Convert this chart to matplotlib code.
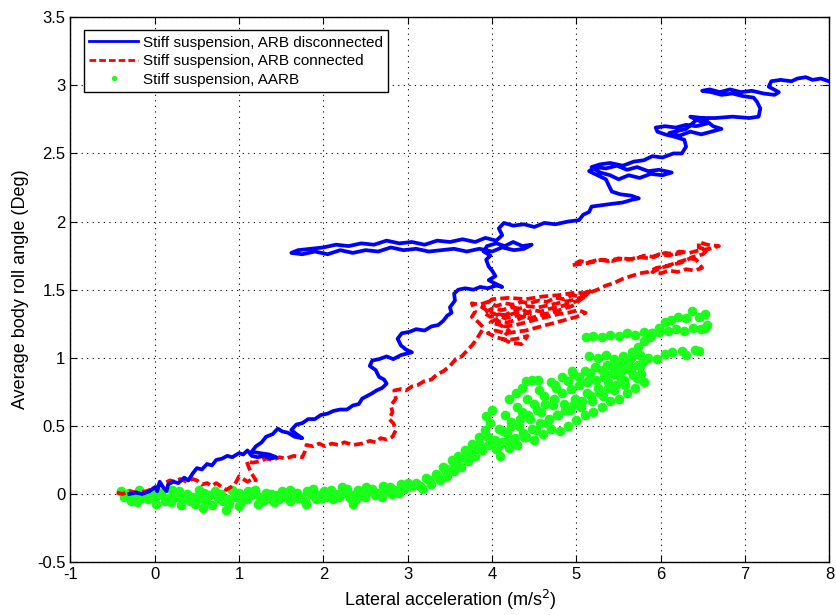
import numpy as np
import matplotlib
matplotlib.use("Agg")
import matplotlib.pyplot as plt

plt.rcParams['font.family'] = ['Liberation Sans Narrow', 'Liberation Sans', 'DejaVu Sans']

# Stiff suspension, ARB disconnected (blue trace), (x, y)
blue_pts = [
    (-0.30, 0.00), (-0.22, 0.01), (-0.15, 0.00), (-0.06, 0.02), (0.00, 0.05), (0.03, 0.02), (0.06, 0.09),
    (0.10, 0.05), (0.14, 0.02), (0.16, 0.07), (0.22, 0.09), (0.28, 0.08), (0.35, 0.12), (0.40, 0.10),
    (0.45, 0.15), (0.50, 0.19), (0.56, 0.18), (0.62, 0.22), (0.68, 0.21), (0.73, 0.25), (0.80, 0.26),
    (0.86, 0.28), (0.92, 0.27), (1.00, 0.30), (1.05, 0.29), (1.10, 0.32), (1.15, 0.28), (1.22, 0.27),
    (1.30, 0.28), (1.38, 0.26), (1.44, 0.27), (1.36, 0.29), (1.25, 0.30), (1.15, 0.31), (1.20, 0.35),
    (1.27, 0.38), (1.32, 0.42), (1.40, 0.44), (1.46, 0.48), (1.51, 0.46), (1.58, 0.45), (1.66, 0.42),
    (1.75, 0.41), (1.68, 0.44), (1.62, 0.47), (1.68, 0.51), (1.75, 0.52), (1.82, 0.55), (1.90, 0.55),
    (1.97, 0.58), (2.05, 0.59), (2.12, 0.61), (2.20, 0.62), (2.28, 0.62), (2.35, 0.65), (2.42, 0.66),
    (2.46, 0.70), (2.52, 0.72), (2.58, 0.74), (2.63, 0.76), (2.70, 0.78), (2.75, 0.81), (2.72, 0.84),
    (2.66, 0.86), (2.62, 0.91), (2.55, 0.94), (2.58, 0.98), (2.66, 0.99), (2.75, 1.01), (2.83, 0.99),
    (2.92, 1.02), (3.05, 1.04), (2.98, 1.06), (2.92, 1.09), (2.88, 1.14), (2.93, 1.18), (3.02, 1.19),
    (3.10, 1.21), (3.20, 1.20), (3.28, 1.23), (3.36, 1.24), (3.42, 1.27), (3.47, 1.31), (3.52, 1.33),
    (3.50, 1.37), (3.56, 1.42), (3.55, 1.47), (3.60, 1.50), (3.68, 1.51), (3.78, 1.50), (3.86, 1.52),
    (3.95, 1.51), (4.05, 1.53), (4.12, 1.52), (4.02, 1.55), (3.96, 1.57), (4.04, 1.60), (4.00, 1.64),
    (3.96, 1.67), (3.93, 1.72), (3.98, 1.75), (3.90, 1.78), (3.94, 1.82), (4.05, 1.84), (4.15, 1.82),
    (4.25, 1.85), (4.36, 1.82), (4.47, 1.83), (4.38, 1.80), (4.26, 1.79), (4.12, 1.81), (4.00, 1.78),
    (3.85, 1.80), (3.70, 1.78), (3.55, 1.80), (3.40, 1.79), (3.25, 1.78), (3.10, 1.80), (2.95, 1.79),
    (2.80, 1.81), (2.65, 1.78), (2.50, 1.79), (2.35, 1.77), (2.20, 1.79), (2.05, 1.76), (1.90, 1.78),
    (1.75, 1.76), (1.62, 1.77), (1.70, 1.79), (1.85, 1.80), (2.00, 1.81), (2.15, 1.83), (2.30, 1.82),
    (2.45, 1.84), (2.60, 1.83), (2.75, 1.86), (2.90, 1.84), (3.05, 1.85), (3.20, 1.83), (3.35, 1.86),
    (3.50, 1.85), (3.65, 1.87), (3.80, 1.85), (3.92, 1.88), (4.05, 1.86), (4.12, 1.90), (4.08, 1.95),
    (4.14, 1.99), (4.25, 1.97), (4.38, 1.98), (4.50, 1.96), (4.62, 1.99), (4.75, 1.98), (4.90, 2.00),
    (5.03, 2.01), (5.08, 2.05), (5.15, 2.07), (5.18, 2.11), (5.30, 2.12), (5.42, 2.13), (5.55, 2.14),
    (5.66, 2.16), (5.74, 2.17), (5.65, 2.19), (5.52, 2.20), (5.42, 2.22), (5.38, 2.27), (5.35, 2.31),
    (5.25, 2.34), (5.15, 2.37), (5.22, 2.40), (5.35, 2.39), (5.48, 2.41), (5.60, 2.38), (5.72, 2.40),
    (5.85, 2.37), (5.98, 2.38), (6.13, 2.36), (6.02, 2.34), (5.88, 2.35), (5.75, 2.32), (5.62, 2.34),
    (5.50, 2.31), (5.40, 2.34), (5.28, 2.36), (5.18, 2.40), (5.28, 2.42), (5.40, 2.43), (5.55, 2.41),
    (5.68, 2.44), (5.80, 2.45), (5.90, 2.48), (6.02, 2.47), (6.15, 2.50), (6.25, 2.50), (6.30, 2.55),
    (6.28, 2.60), (6.18, 2.62), (6.05, 2.64), (5.96, 2.66), (5.94, 2.69), (6.05, 2.70), (6.18, 2.69),
    (6.30, 2.71), (6.42, 2.70), (6.55, 2.72), (6.45, 2.74), (6.35, 2.77), (6.50, 2.76), (6.62, 2.70),
    (6.72, 2.68), (6.60, 2.66), (6.48, 2.64), (6.35, 2.66), (6.22, 2.63), (6.10, 2.65), (6.30, 2.68),
    (6.45, 2.76), (6.65, 2.76), (6.85, 2.77), (7.05, 2.76), (7.16, 2.77), (7.18, 2.83), (7.14, 2.88),
    (7.10, 2.91), (6.98, 2.92), (6.85, 2.94), (6.72, 2.93), (6.60, 2.95), (6.49, 2.96), (6.58, 2.97),
    (6.70, 2.95), (6.82, 2.97), (6.95, 2.95), (7.08, 2.96), (7.22, 2.94), (7.35, 2.93), (7.40, 2.95),
    (7.28, 2.99), (7.31, 3.03), (7.42, 3.04), (7.55, 3.03), (7.62, 3.05), (7.72, 3.06), (7.80, 3.04),
    (7.90, 3.05), (7.99, 3.03),
]

# Stiff suspension, ARB connected (red trace)
red_pts = [
    (-0.45, 0.01), (-0.38, 0.00), (-0.30, 0.02), (-0.20, 0.01), (-0.10, 0.02), (-0.02, 0.04), (0.05, 0.06),
    (0.12, 0.08), (0.18, 0.10), (0.24, 0.09), (0.30, 0.11), (0.38, 0.09), (0.45, 0.11), (0.50, 0.10),
    (0.56, 0.07), (0.62, 0.08), (0.68, 0.06), (0.73, 0.08), (0.80, 0.05), (0.85, 0.03), (0.90, 0.05),
    (0.95, 0.07), (1.00, 0.13), (1.05, 0.11), (1.10, 0.09), (1.16, 0.11), (1.20, 0.10), (1.15, 0.15),
    (1.12, 0.19), (1.09, 0.24), (1.16, 0.23), (1.25, 0.24), (1.32, 0.26), (1.40, 0.25), (1.48, 0.27),
    (1.55, 0.26), (1.65, 0.28), (1.75, 0.27), (1.78, 0.31), (1.80, 0.36), (1.88, 0.35), (1.95, 0.37),
    (2.02, 0.35), (2.10, 0.37), (2.18, 0.36), (2.25, 0.38), (2.35, 0.36), (2.46, 0.37), (2.55, 0.39),
    (2.62, 0.38), (2.68, 0.41), (2.75, 0.40), (2.82, 0.42), (2.86, 0.47), (2.83, 0.52), (2.78, 0.55),
    (2.82, 0.60), (2.80, 0.65), (2.86, 0.70), (2.84, 0.76), (2.92, 0.77), (2.98, 0.76), (3.05, 0.79),
    (3.12, 0.80), (3.20, 0.83), (3.28, 0.84), (3.35, 0.88), (3.42, 0.90), (3.50, 0.94), (3.57, 0.99),
    (3.64, 1.01), (3.70, 1.05), (3.76, 1.09), (3.81, 1.13), (3.86, 1.18), (3.90, 1.22), (3.84, 1.26),
    (3.76, 1.30), (3.80, 1.34), (3.76, 1.40), (3.85, 1.39), (3.95, 1.41), (4.05, 1.38), (4.15, 1.40),
    (4.25, 1.39), (4.35, 1.41), (4.45, 1.40), (4.55, 1.42), (4.65, 1.41), (4.75, 1.44), (4.85, 1.43),
    (4.95, 1.46), (5.05, 1.45), (5.11, 1.48), (5.18, 1.50), (5.08, 1.44), (4.98, 1.41), (4.88, 1.39),
    (4.78, 1.37), (4.68, 1.36), (4.58, 1.34), (4.48, 1.35), (4.38, 1.32), (4.28, 1.33), (4.18, 1.31),
    (4.08, 1.32), (3.98, 1.30), (3.90, 1.33), (4.00, 1.36), (4.12, 1.35), (4.22, 1.37), (4.35, 1.36),
    (4.45, 1.32), (4.30, 1.28), (4.18, 1.26), (4.05, 1.27), (4.15, 1.23), (4.28, 1.24), (4.40, 1.26),
    (4.52, 1.28), (4.65, 1.30), (4.78, 1.32), (4.90, 1.33), (5.02, 1.35), (5.11, 1.33), (5.00, 1.30),
    (4.88, 1.28), (4.76, 1.26), (4.64, 1.24), (4.52, 1.22), (4.40, 1.20), (4.28, 1.19), (4.16, 1.18),
    (4.04, 1.20), (3.95, 1.18), (4.05, 1.15), (4.18, 1.13), (4.30, 1.14), (4.42, 1.16), (4.35, 1.10),
    (4.22, 1.11), (4.12, 1.14), (4.20, 1.20), (4.10, 1.24), (3.98, 1.26), (4.10, 1.30), (4.25, 1.34),
    (4.40, 1.38), (4.55, 1.37), (4.70, 1.39), (4.85, 1.41), (5.00, 1.43), (5.12, 1.46), (4.95, 1.38),
    (4.80, 1.35), (4.62, 1.32), (4.45, 1.29), (4.30, 1.31), (4.15, 1.29), (4.00, 1.33), (3.88, 1.37),
    (4.00, 1.43), (4.20, 1.44), (4.40, 1.43), (4.60, 1.45), (4.80, 1.46), (5.00, 1.48), (5.12, 1.47),
    (5.25, 1.50),
    (5.35, 1.53), (5.45, 1.55), (5.55, 1.58), (5.65, 1.60), (5.75, 1.62), (5.85, 1.63), (5.95, 1.66),
    (6.05, 1.67), (6.15, 1.69), (6.25, 1.71), (6.35, 1.73), (6.42, 1.72), (6.49, 1.66), (6.40, 1.64),
    (6.30, 1.65), (6.20, 1.63), (6.10, 1.64), (6.00, 1.62), (5.90, 1.63), (6.00, 1.66), (6.12, 1.68),
    (6.25, 1.70), (6.38, 1.74), (6.50, 1.76), (6.55, 1.79), (6.45, 1.81), (6.45, 1.85), (6.55, 1.83),
    (6.69, 1.82), (6.58, 1.80), (6.46, 1.79), (6.34, 1.77), (6.22, 1.78), (6.10, 1.75), (5.98, 1.76),
    (5.86, 1.73), (5.74, 1.74), (5.62, 1.72), (5.50, 1.73), (5.38, 1.71), (5.26, 1.72), (5.14, 1.70),
    (5.04, 1.71), (4.95, 1.68), (5.06, 1.69), (5.18, 1.70), (5.30, 1.72), (5.42, 1.71), (5.55, 1.73),
    (5.68, 1.72), (5.80, 1.75), (5.92, 1.74), (6.05, 1.77), (6.18, 1.76), (6.30, 1.78),
]

# Stiff suspension, AARB (green points)
green_x = [
    # low band, upper row
    -0.40, -0.31, -0.19, -0.12, 0.01, 0.08, 0.21, 0.29, 0.38, 0.52, 0.59, 0.71, 0.79, 0.92, 1.00,
    1.11, 1.19, 1.32, 1.38, 1.51, 1.60, 1.69, 1.81, 1.88, 2.01, 2.09, 2.22, 2.28, 2.41, 2.50,
    2.58, 2.71, 2.79, 2.92, 3.00,
    # low band, middle row
    -0.36, -0.24, -0.16, -0.04, 0.04, 0.16, 0.24, 0.33, 0.46, 0.55, 0.64, 0.75, 0.86, 0.95, 1.06,
    1.14, 1.25, 1.36, 1.44, 1.55, 1.65, 1.74, 1.85, 1.94, 2.05, 2.15, 2.24, 2.35, 2.46, 2.54,
    2.65, 2.75, 2.84, 2.96, 3.05,
    # low band, lower row
    -0.28, -0.21, -0.08, 0.02, 0.12, 0.19, 0.31, 0.42, 0.48, 0.61, 0.68, 0.81, 0.88, 1.02, 1.09,
    1.22, 1.28, 1.41, 1.48, 1.61, 1.70, 1.78, 1.91, 1.98, 2.11, 2.19, 2.31, 2.39, 2.49, 2.61,
    2.69, 2.81, 2.90,
    # low band, stray points
    0.57, 0.85, 1.00, 1.80, 2.35,
    # rising band
    3.10, 3.18, 3.22, 3.28, 3.33, 3.38, 3.42, 3.47, 3.52, 3.55, 3.60, 3.63, 3.68, 3.72, 3.76,
    3.80, 3.84, 3.88, 3.92, 3.95, 3.98, 4.02, 3.45, 3.58, 3.70, 3.82,
    3.15, 3.25, 3.35, 3.45, 3.55, 3.65, 3.75, 3.85, 3.95,
    3.93, 4.00, 4.20, 4.28, 4.40, 4.47,
    # broad cloud
    4.05, 4.12, 4.18, 4.25, 4.32, 4.38, 4.45, 4.52, 4.58, 4.65, 4.72, 4.78, 4.85, 4.92, 4.98,
    5.05, 5.12, 5.18, 5.25, 5.32, 5.38, 5.45, 5.52, 5.58, 5.65, 5.72,
    4.08, 4.15, 4.22, 4.30, 4.36, 4.42, 4.50, 4.56, 4.62, 4.70, 4.76, 4.83, 4.90, 4.96, 5.03,
    5.10, 5.16, 5.22, 5.30, 5.36, 5.43, 5.50, 5.56, 5.63, 5.70, 5.78,
    4.10, 4.20, 4.30, 4.40, 4.50, 4.60, 4.70, 4.80, 4.90, 5.00, 5.10, 5.20, 5.30, 5.40, 5.50,
    5.60, 5.70, 5.80,
    4.03, 4.13, 4.23, 4.33, 4.43, 4.53, 4.63, 4.73, 4.83, 4.93, 5.03, 5.13, 5.23, 5.33, 5.43,
    5.53, 5.63, 5.73,
    4.07, 4.17, 4.27, 4.37, 4.47, 4.57, 4.67, 4.77, 4.87, 4.97, 5.07, 5.17, 5.27, 5.37, 5.47,
    5.57, 5.67, 5.77,
    4.35, 4.55, 4.75, 4.95, 5.15, 5.35, 5.55, 5.75,
    # lower upper-right band
    5.15, 5.25, 5.35, 5.45, 5.55, 5.65, 5.75, 5.85, 5.95, 6.05, 6.13, 6.25, 6.41, 6.30, 6.45,
    # upper upper-right band
    5.11, 5.20, 5.30, 5.40, 5.50, 5.60, 5.70, 5.80, 5.90, 5.98, 6.08, 6.18, 6.28, 6.38, 6.48,
    6.53, 6.55,
    # joining strokes and top
    5.59, 5.66, 5.73, 5.80, 5.87, 5.90, 5.98, 6.05, 6.12, 6.21, 6.30, 6.37, 6.45, 6.53,
]
green_y = [
    0.02, 0.01, 0.03, 0.00, 0.02, 0.01, 0.03, 0.02, 0.00, 0.03, 0.01, 0.02, 0.00, 0.03, 0.01,
    0.02, 0.03, 0.01, 0.00, 0.02, 0.03, 0.01, 0.02, 0.04, 0.02, 0.03, 0.05, 0.04, 0.03, 0.05,
    0.04, 0.06, 0.05, 0.07, 0.08,
    -0.02, -0.01, -0.03, -0.02, -0.01, -0.03, -0.02, -0.04, -0.02, -0.03, -0.01, -0.03, -0.04, -0.02, -0.03,
    -0.01, -0.02, -0.03, -0.01, -0.02, -0.01, -0.02, 0.00, -0.01, -0.02, 0.00, 0.01, -0.01, 0.00, 0.02,
    0.01, 0.02, 0.03, 0.04, 0.06,
    -0.05, -0.06, -0.04, -0.07, -0.05, -0.06, -0.08, -0.05, -0.07, -0.06, -0.08, -0.05, -0.07, -0.06, -0.04,
    -0.07, -0.05, -0.06, -0.04, -0.05, -0.03, -0.05, -0.04, -0.03, -0.04, -0.02, -0.03, -0.04, -0.02, -0.01,
    -0.02, 0.00, 0.01,
    -0.10, -0.12, -0.09, -0.07, -0.07,
    0.08, 0.04, 0.12, 0.07, 0.15, 0.10, 0.20, 0.13, 0.25, 0.17, 0.28, 0.20, 0.32, 0.24, 0.37,
    0.28, 0.42, 0.32, 0.47, 0.36, 0.52, 0.40, 0.16, 0.23, 0.30, 0.35,
    0.06, 0.10, 0.13, 0.18, 0.22, 0.27, 0.31, 0.37, 0.42,
    0.57, 0.62, 0.70, 0.74, 0.83, 0.84,
    0.33, 0.38, 0.45, 0.40, 0.50, 0.42, 0.55, 0.47, 0.60, 0.52, 0.65, 0.58, 0.66, 0.62, 0.70,
    0.64, 0.74, 0.68, 0.78, 0.72, 0.82, 0.76, 0.86, 0.80, 0.90, 0.85,
    0.48, 0.58, 0.53, 0.64, 0.60, 0.70, 0.66, 0.76, 0.72, 0.82, 0.78, 0.86, 0.83, 0.88, 0.86,
    0.90, 0.89, 0.93, 0.91, 0.95, 0.93, 0.97, 0.95, 1.00, 1.03, 0.96,
    0.28, 0.34, 0.36, 0.42, 0.40, 0.44, 0.48, 0.46, 0.50, 0.54, 0.58, 0.60, 0.64, 0.68, 0.70,
    0.74, 0.78, 0.82,
    0.40, 0.46, 0.50, 0.55, 0.58, 0.62, 0.66, 0.70, 0.74, 0.77, 0.80, 0.82, 0.84, 0.86, 0.88,
    0.90, 0.93, 0.95,
    0.35, 0.38, 0.41, 0.45, 0.48, 0.52, 0.55, 0.58, 0.62, 0.66, 0.68, 0.72, 0.75, 0.78, 0.80,
    0.84, 0.87, 0.88,
    0.78, 0.84, 0.80, 0.90, 0.84, 0.88, 0.92, 0.94,
    1.01, 1.00, 1.02, 0.99, 1.01, 1.00, 1.02, 1.00, 0.99, 1.03, 1.04, 1.05, 1.06, 1.02, 1.05,
    1.15, 1.16, 1.15, 1.17, 1.16, 1.18, 1.17, 1.19, 1.18, 1.19, 1.20, 1.21, 1.20, 1.22, 1.21,
    1.22, 1.24,
    0.99, 1.04, 1.08, 1.12, 1.15, 1.18, 1.22, 1.26, 1.28, 1.30, 1.29, 1.34, 1.30, 1.32,
]

blue_x, blue_y = zip(*blue_pts)
red_x, red_y = zip(*red_pts)

fig = plt.figure(figsize=(8.37, 6.15), dpi=100)
ax = fig.add_axes([0.084, 0.086, 0.907, 0.886])

ax.plot(green_x, green_y, ls='none', marker='o', ms=7, mec='none', color='#1aff1a',
        label='Stiff suspension, AARB', zorder=2)
ax.plot(blue_x, blue_y, color='#0000ff', lw=2.7, label='Stiff suspension, ARB disconnected', zorder=4)
ax.plot(red_x, red_y, color='#ff0000', lw=2.7, ls=(0, (2.4, 1.1)), label='Stiff suspension, ARB connected', zorder=3)

ax.set_xlim(-1, 8)
ax.set_ylim(-0.5, 3.5)
ax.set_xticks(np.arange(-1, 9, 1))
ax.set_yticks(np.arange(-0.5, 3.6, 0.5))
ax.set_xticklabels([str(v) for v in range(-1, 9)])
ax.set_yticklabels(['-0.5', '0', '0.5', '1', '1.5', '2', '2.5', '3', '3.5'])
ax.tick_params(direction='in', top=True, right=True, labelsize=12, length=5)
ax.grid(True, color='black', ls=(0, (1, 4)), lw=0.8)
for s in ax.spines.values():
    s.set_linewidth(1.0)

ax.set_xlabel('Lateral acceleration (m/s$^2$)', fontsize=13, labelpad=4)
ax.set_ylabel('Average body roll angle (Deg)', fontsize=13, labelpad=6)

h, l = ax.get_legend_handles_labels()
order = [1, 2, 0]
leg = ax.legend([h[i] for i in order], [l[i] for i in order], loc='upper left',
                bbox_to_anchor=(0.008, 0.99), fontsize=11, fancybox=False, framealpha=1,
                edgecolor='black', borderpad=0.35, labelspacing=0.3, handlelength=3.2,
                handletextpad=0.3, markerscale=0.55)
leg.get_frame().set_linewidth(1.0)
for line in leg.get_lines():
    line.set_linewidth(2.0)

fig.savefig('out.png', dpi=100)
